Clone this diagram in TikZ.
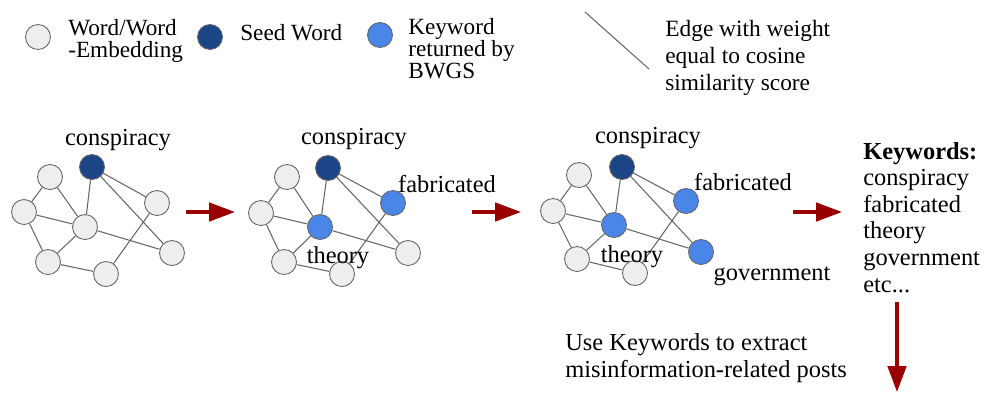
\documentclass[tikz,border=0pt]{standalone}
\usepackage{fontspec}
\setmainfont{Liberation Serif}
\usepackage{xcolor}
\usepackage{tikz}
\usetikzlibrary{positioning,arrows.meta}
\definecolor{wordgray}{HTML}{EEEEEE}
\definecolor{seedblue}{HTML}{1C4587}
\definecolor{keyblue}{HTML}{4A86E8}
\definecolor{linegray}{HTML}{666666}
\definecolor{arrowred}{HTML}{990000}
\newcommand{\mainsize}{\fontsize{13.9pt}{15.1pt}\selectfont}
\newcommand{\legsize}{\fontsize{13.2pt}{12.3pt}\selectfont}
\newcommand{\edgesize}{\fontsize{13.3pt}{15.3pt}\selectfont}

\begin{document}
\begin{tikzpicture}[x=0.02cm,y=-0.02cm,node distance=0.36cm,
		word/.style={circle,draw=linegray,fill=wordgray,minimum size=0.5cm,inner sep=0pt,line width=0.5pt},
		seed/.style={word,fill=seedblue},
		key/.style={word,fill=keyblue},
		lbl/.style={inner sep=0pt,font=\mainsize,anchor=base},
		leg/.style={inner sep=0pt,font=\legsize,align=left,anchor=base west},
		bigarrow/.style={draw=arrowred,line width=0.065cm,-{Triangle[length=0.52cm,width=0.37cm]}}]
			\useasboundingbox (0,0) rectangle (987,393);
			% legend
			\node[word] (l1) at (38,37) {};
			\node[leg] (t1) at (68,57) {Word/Word\\-Embedding};
			\node[seed] (l2) at (210,37) {};
			\node[leg] (t2) at (240,40) {Seed Word};
			\node[key] (l3) at (380,35) {};
			\node[leg] (t3) at (408,78) {Keyword\\returned by\\BWGS};
			\coordinate (e1) at (585,12);
			\coordinate (e2) at (649,69);
			\draw[linegray,line width=0.6pt] (e1) -- (e2);
			\node[leg,font=\edgesize] (t4) at (665,90) {Edge with weight\\equal to cosine\\similarity score};

			% graph 1
			\node[seed] (a0) at (92,167) {};
			\node[word] (a1) at (50,177) {};
			\node[word] (a2) at (24,212) {};
			\node[word] (a3) at (85,227) {};
			\node[word] (a4) at (157,203) {};
			\node[word] (a5) at (48,262) {};
			\node[word] (a6) at (106,274) {};
			\node[word] (a7) at (172,253) {};
			% graph 2
			\node[seed] (b0) at (328,168) {};
			\node[word] (b1) at (287,177) {};
			\node[word] (b2) at (261,213) {};
			\node[key] (b3) at (320,227) {};
			\node[key] (b4) at (393,203) {};
			\node[word] (b5) at (284,262) {};
			\node[word] (b6) at (342,274) {};
			\node[word] (b7) at (408,253) {};
			% graph 3
			\node[seed] (c0) at (622,167) {};
			\node[word] (c1) at (579,175) {};
			\node[word] (c2) at (553,211) {};
			\node[key] (c3) at (614,225) {};
			\node[key] (c4) at (686,201) {};
			\node[word] (c5) at (577,259) {};
			\node[word] (c6) at (635,273) {};
			\node[key] (c7) at (701,252) {};

			\draw[linegray,line width=0.6pt]
					(a0) edge (a4) (a0) edge (a3) (a0) edge (a7)
					(a1) edge (a2) (a1) edge (a3) (a2) edge (a3)
					(a2) edge (a5) (a3) edge (a5) (a3) edge (a7)
					(a5) edge (a6) (a6) edge (a4)
					(b0) edge (b4) (b0) edge (b3) (b0) edge (b7)
					(b1) edge (b2) (b1) edge (b3) (b2) edge (b3)
					(b2) edge (b5) (b3) edge (b5) (b3) edge (b7)
					(b5) edge (b6) (b6) edge (b4)
					(c0) edge (c4) (c0) edge (c3) (c0) edge (c7)
					(c1) edge (c2) (c1) edge (c3) (c2) edge (c3)
					(c2) edge (c5) (c3) edge (c5) (c3) edge (c7)
					(c5) edge (c6) (c6) edge (c4);

			% word labels
			\node[lbl] (w1) at (118,145) {conspiracy};
			\node[lbl] (w2) at (354,144) {conspiracy};
			\node[lbl] (w3) at (447,192) {fabricated};
			\node[lbl] (w4) at (338,263) {theory};
			\node[lbl] (w5) at (648,143) {conspiracy};
			\node[lbl] (w6) at (743,190) {fabricated};
			\node[lbl] (w7) at (632,262) {theory};
			\node[lbl] (w8) at (772,280) {government};

			% keywords and arrows
			\node[lbl,align=left,anchor=base west] (kw) at (863,292) {\textbf{Keywords:}\\conspiracy\\fabricated\\theory\\government\\etc...};
			\node[lbl,align=left,anchor=base west] (use) at (565,377) {Use Keywords to extract\\misinformation-related posts};
			\coordinate (s1) at (186,212);
			\coordinate (f1) at (235,212);
			\coordinate (s2) at (472,212);
			\coordinate (f2) at (521,212);
			\coordinate (s3) at (793,212);
			\coordinate (f3) at (842,212);
			\coordinate (s4) at (897,302);
			\coordinate (f4) at (897,392);
			\draw[bigarrow] (s1) -- (f1);
			\draw[bigarrow] (s2) -- (f2);
			\draw[bigarrow] (s3) -- (f3);
			\draw[bigarrow] (s4) -- (f4);
\end{tikzpicture}
\end{document}
